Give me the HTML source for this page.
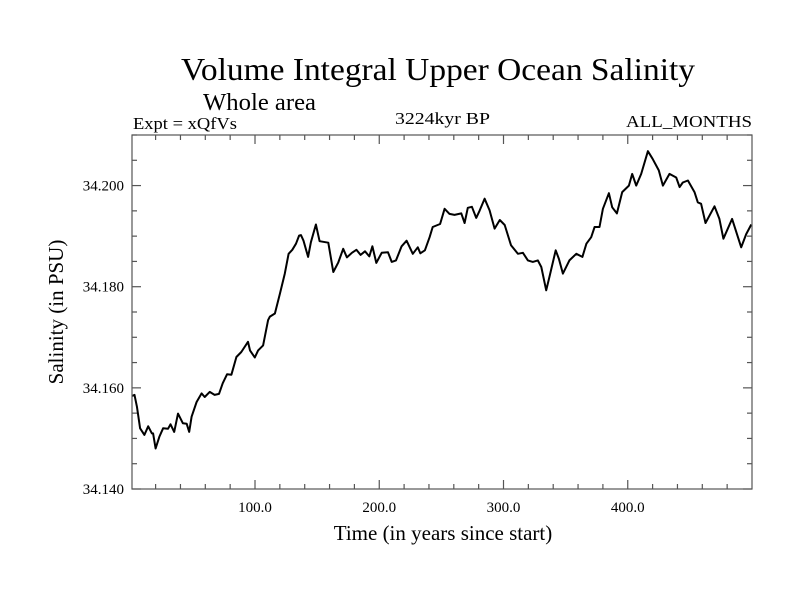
<!DOCTYPE html>
<html><head><meta charset="utf-8"><style>
body{margin:0;background:#fff}
svg text{font-family:"Liberation Serif",serif;fill:#000}
</style></head><body>
<svg id="chart" width="800" height="600" viewBox="0 0 800 600" xmlns="http://www.w3.org/2000/svg">
<rect width="800" height="600" fill="#fff"/>
<text x="181" y="80" font-size="32" textLength="514" lengthAdjust="spacingAndGlyphs">Volume Integral Upper Ocean Salinity</text>
<text x="203" y="110" font-size="24" textLength="113" lengthAdjust="spacingAndGlyphs">Whole area</text>
<text x="133" y="129" font-size="17" textLength="104" lengthAdjust="spacingAndGlyphs">Expt = xQfVs</text>
<text x="395" y="124" font-size="17" textLength="95" lengthAdjust="spacingAndGlyphs">3224kyr BP</text>
<text x="626" y="127" font-size="17" textLength="126" lengthAdjust="spacingAndGlyphs">ALL_MONTHS</text>
<text x="443" y="540" font-size="21" text-anchor="middle">Time (in years since start)</text>
<text transform="translate(63,312) rotate(-90)" font-size="21" text-anchor="middle">Salinity (in PSU)</text>
<g id="axes"></g>
<path id="line" fill="none" stroke="#000" stroke-width="2" stroke-linejoin="round"/>
<rect x="132" y="135" width="620" height="354" fill="none" stroke="#555" stroke-width="1.2"/>
</svg>
<script>
const years=[1,3,5,7.5,11,14,17,18,20,23,26,30,32,35,38,42,45,47,49,53,57,59.5,63.5,67.5,71,74,77.5,81,85,89,94.4,96,99.8,102.5,106.5,110.5,112,116,120,124,127,130,133,135.5,137,139,142.7,145,149,152,159,163,167,171,174,178,181.6,185,188.5,192,194.5,197.6,202,207,210,213.5,218,222,227,231,233,236.7,240.5,243,249,252.6,256.5,260.6,266,268.7,271.3,274.6,278,280.7,284.8,288.8,292.8,297,301,306,311.6,315.6,319.6,323.6,327.6,330.4,334.4,337,342,344.6,347.8,353,358.6,363.5,366.7,370.6,373.3,377.3,380,384.8,387.5,391.3,395.5,400.9,403.6,406.8,410.8,416.2,420,425,428.3,433.6,439,441.7,444.3,448.4,453.7,456.4,459,462.6,469.8,473.8,477,484,491.3,495.3,499.4];
const salinity=[34.1584,34.1586,34.1562,34.1520,34.1507,34.1524,34.1510,34.1510,34.1480,34.1503,34.1520,34.1519,34.1528,34.1513,34.1549,34.1530,34.1529,34.1513,34.1543,34.1572,34.1589,34.1582,34.1592,34.1586,34.1588,34.1609,34.1627,34.1626,34.1661,34.1671,34.1691,34.1674,34.1660,34.1674,34.1684,34.1734,34.1741,34.1747,34.1786,34.1826,34.1865,34.1873,34.1885,34.1901,34.1902,34.1891,34.1859,34.1888,34.1923,34.1890,34.1887,34.1829,34.1848,34.1875,34.1858,34.1867,34.1873,34.1863,34.1870,34.1860,34.1880,34.1847,34.1867,34.1868,34.1849,34.1852,34.1880,34.1891,34.1865,34.1878,34.1866,34.1872,34.1898,34.1918,34.1924,34.1954,34.1944,34.1942,34.1945,34.1926,34.1956,34.1958,34.1936,34.1950,34.1974,34.1951,34.1915,34.1932,34.1922,34.1882,34.1865,34.1867,34.1852,34.1849,34.1852,34.1839,34.1793,34.1820,34.1872,34.1855,34.1826,34.1852,34.1865,34.1859,34.1885,34.1898,34.1918,34.1918,34.1954,34.1985,34.1957,34.1945,34.1987,34.2000,34.2023,34.2000,34.2023,34.2068,34.2053,34.2030,34.2000,34.2023,34.2016,34.1997,34.2006,34.2010,34.1987,34.1967,34.1964,34.1926,34.1959,34.1934,34.1895,34.1934,34.1878,34.1904,34.1923];
const xTickLabels=["100.0","200.0","300.0","400.0"];
const yTickLabels=["34.140","34.160","34.180","34.200"];
const X0=132,X1=752,Y0=489,Y1=135,XMIN=1,XMAX=500,YMIN=34.14,YMAX=34.21;
const xs=v=>X0+(v-XMIN)/(XMAX-XMIN)*(X1-X0);
const ys=v=>Y0-(v-YMIN)/(YMAX-YMIN)*(Y0-Y1);
const NS="http://www.w3.org/2000/svg",g=document.getElementById('axes');
function ln(x1,y1,x2,y2,n){const l=document.createElementNS(NS,'line');l.setAttribute('x1',x1);l.setAttribute('y1',y1);l.setAttribute('x2',x2);l.setAttribute('y2',y2);l.setAttribute('stroke','#555');l.setAttribute('stroke-width','1.2');


g.appendChild(l);}
function tx(x,y,s,a,n){const t=document.createElementNS(NS,'text');t.setAttribute('x',x);t.setAttribute('y',y);t.setAttribute('font-size','15');t.setAttribute('text-anchor',a);t.textContent=s;


g.appendChild(t);}
for(let v=20;v<500;v+=20){const major=v%100===0,L=major?9:5,x=xs(v);ln(x,Y0,x,Y0-L,'x-tick');ln(x,Y1,x,Y1+L,'x-tick-top');}
xTickLabels.forEach(s=>tx(xs(parseFloat(s)),512,s,'middle','x-tick-label'));
for(let i=0;i<=14;i++){const v=YMIN+i*0.005,major=i%4===0,L=major?9:5,y=ys(v);ln(X0,y,X0+L,y,'y-tick');ln(X1,y,X1-L,y,'y-tick-right');}
yTickLabels.forEach(s=>tx(124,ys(parseFloat(s))+5,s,'end','y-tick-label'));
document.getElementById('line').setAttribute('d',years.map((y,i)=>(i?'L':'M')+xs(y).toFixed(1)+','+ys(salinity[i]).toFixed(1)).join(''));
</script>
</body></html>
